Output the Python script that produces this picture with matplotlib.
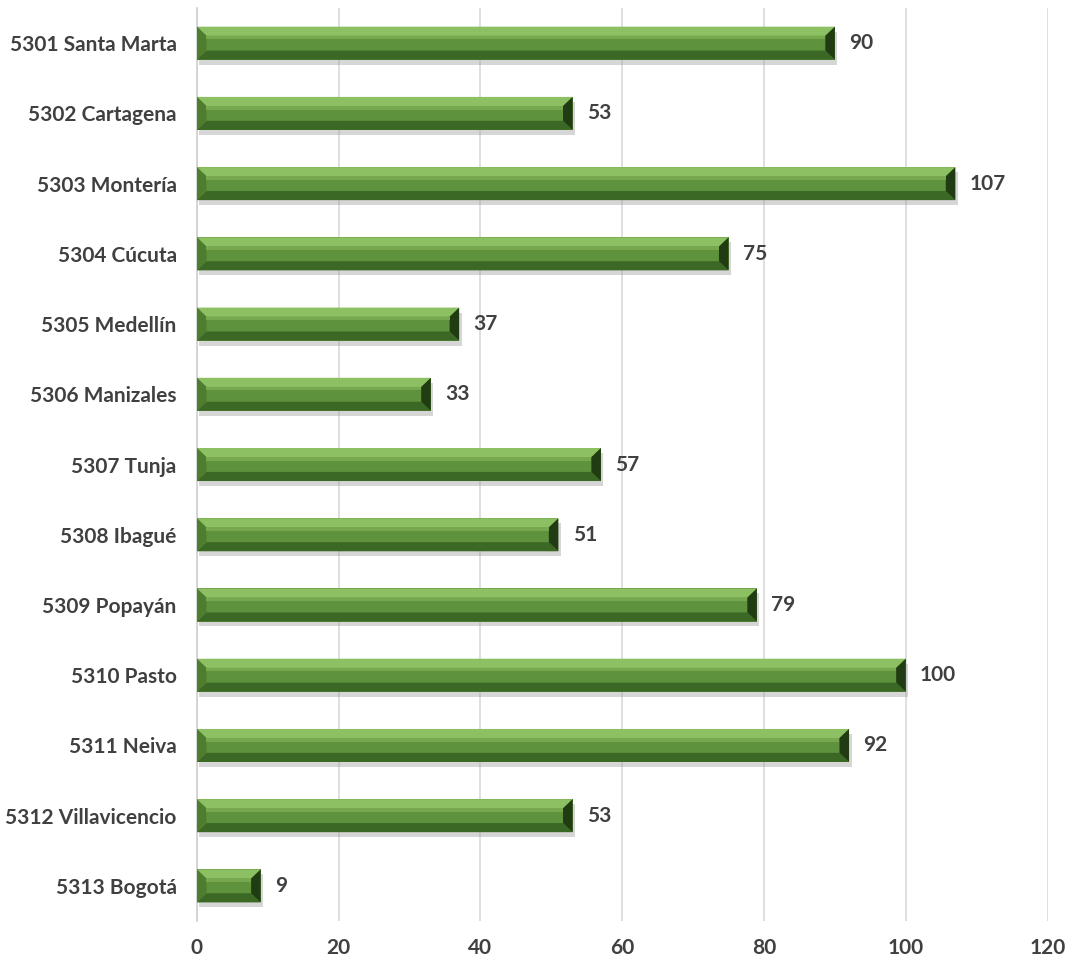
import matplotlib.pyplot as plt
from matplotlib.patches import Polygon

plt.rcParams['font.family'] = ['Lato', 'DejaVu Sans']

# oficinas y número de casos
oficinas = ['5301 Santa Marta', '5302 Cartagena', '5303 Montería', '5304 Cúcuta',
            '5305 Medellín', '5306 Manizales', '5307 Tunja', '5308 Ibagué',
            '5309 Popayán', '5310 Pasto', '5311 Neiva', '5312 Villavicencio',
            '5313 Bogotá']
casos = [90, 53, 107, 75, 37, 33, 57, 51, 79, 100, 92, 53, 9]
xticks = [0, 20, 40, 60, 80, 100, 120]

fig = plt.figure(figsize=(10.7, 9.61), dpi=100)
ax = fig.add_axes([0.184, 0.0416, 0.795, 0.950])

pos = list(range(len(oficinas)))
alto = 0.47
dx = 1.35   # ancho del bisel en unidades de x
dy = 0.13   # alto del bisel en unidades de y

# sombra debajo de cada barra
ax.barh([p + 0.07 for p in pos], casos, height=alto, left=0.35,
        color='#9a9a9a', alpha=0.4, zorder=2)
# cuerpo de la barra
ax.barh(pos, casos, height=alto, color='#5f923c', zorder=3)

for p, v in zip(pos, casos):
    y0 = p - alto / 2   # borde superior (eje invertido)
    y1 = p + alto / 2   # borde inferior
    bx = min(dx, v / 3)
    caras = [
        ([(0, y0), (v, y0), (v - bx, y0 + dy), (bx, y0 + dy)], '#8dbf63'),
        ([(0, y1), (v, y1), (v - bx, y1 - dy), (bx, y1 - dy)], '#3c6825'),
        ([(0, y0), (bx, y0 + dy), (bx, y1 - dy), (0, y1)], '#4e7d30'),
        ([(v, y0), (v - bx, y0 + dy), (v - bx, y1 - dy), (v, y1)], '#213c12'),
    ]
    for pts, c in caras:
        ax.add_patch(Polygon(pts, closed=True, facecolor=c, edgecolor='none', zorder=4))
    # franja clara en la parte alta de la cara frontal
    ax.add_patch(Polygon([(bx, y0 + dy), (v - bx, y0 + dy), (v - bx, y0 + dy + 0.05),
                          (bx, y0 + dy + 0.05)], closed=True, facecolor='#77a850',
                         edgecolor='none', zorder=4))
    ax.text(v + 2, p, str(v), va='center', ha='left', fontsize=15,
            fontweight='bold', color='#404040')

ax.set_xlim(0, 120)
ax.set_ylim(len(oficinas) - 0.5, -0.5)
ax.set_xticks(xticks)
ax.set_yticks(pos)
ax.set_yticklabels(oficinas)
ax.xaxis.grid(True, color='#d9d9d9', linewidth=1.2, zorder=0)
ax.set_axisbelow(True)
for s in ['top', 'right', 'bottom']:
    ax.spines[s].set_visible(False)
ax.spines['left'].set_color('#d0d0d0')
ax.spines['left'].set_linewidth(1.2)
ax.tick_params(length=0, labelsize=15, labelcolor='#404040', pad=14.5)
ax.tick_params(axis='x', pad=12)
for t in ax.get_xticklabels() + ax.get_yticklabels():
    t.set_fontweight('bold')

fig.savefig('out.png', dpi=100)
